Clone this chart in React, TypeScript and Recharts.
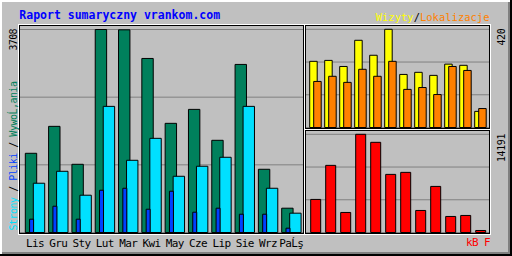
import { BarChart, Bar, XAxis, YAxis, CartesianGrid, Rectangle } from "recharts";

// month order as printed under the main panel (the last label is mojibake in the original)
const months = ["Lis", "Gru", "Sty", "Lut", "Mar", "Kwi", "May", "Cze", "Lip", "Sie", "Wrz", "PaĹş"];

const hits = [1447, 1939, 1246, 3708, 3702, 3179, 1994, 2249, 1684, 3070, 1155, 444];
const files = [900, 1118, 681, 2304, 1319, 1720, 1027, 1210, 1374, 2304, 808, 353];
const pages = [243, 480, 243, 772, 808, 425, 754, 371, 444, 334, 334, 79];
const visits = [283, 287, 261, 373, 309, 420, 227, 236, 223, 271, 266, 69];
const sites = [197, 219, 193, 249, 219, 283, 163, 171, 141, 261, 244, 81];
const kbytes = [4779, 9702, 2896, 14191, 13033, 8399, 8689, 3186, 6661, 2317, 2462, 290];

const hitsMax = 3708;
const visitsMax = 420;
const kbMax = 14191;

const data = months.map((m, i) => ({
  month: m,
  hits: hits[i],
  files: files[i],
  pages: pages[i],
  visits: visits[i],
  sites: sites[i],
  kbytes: kbytes[i],
}));

const mono = "'DejaVu Sans Mono', monospace";
const thirds = (max: number) => [max / 3, (max * 2) / 3];

// pages bar sits inside the hits bar, a bit left of the group centre
const PagesBar = (props: any) => <Rectangle {...props} x={props.x - 3.7} />;

const MonthTick = ({ x, y, payload }: any) => (
  <text x={x} y={y} dy={7.8} textAnchor="middle" fontFamily={mono} fontSize={11} letterSpacing={-0.6} fill="#000">
    {payload.value}
  </text>
);

const Panel = ({ x1, y1, x2, y2 }: any) => (
  <g fill="none">
    <rect x={x1 - 0.5} y={y1 - 0.5} width={x2 - x1 + 2} height={y2 - y1 + 2} stroke="#fff" />
    <rect x={x1 + 0.5} y={y1 + 0.5} width={x2 - x1} height={y2 - y1} stroke="#000" />
  </g>
);

const Frame = () => (
  <svg width={512} height={256} style={{ position: "absolute", left: 0, top: 0 }}>
    <rect width={512} height={256} fill="#c0c0c0" />
    <rect x={0} y={0} width={512} height={2} fill="#fff" />
    <rect x={0} y={0} width={2} height={256} fill="#fff" />
    <rect x={508} y={2} width={2} height={252} fill="#808080" />
    <rect x={2} y={252} width={508} height={2} fill="#808080" />
    <rect x={510} y={0} width={2} height={256} fill="#000" />
    <rect x={0} y={254} width={512} height={2} fill="#000" />

    <Panel x1={19} y1={25} x2={303} y2={233} />
    <Panel x1={305} y1={25} x2={489} y2={128} />
    <Panel x1={305} y1={130} x2={489} y2={233} />

    <text x={19.3} y={19} fontFamily={mono} fontWeight="bold" fontSize={11.5} fill="#0000ff">
      Raport sumaryczny vrankom.com
    </text>
    <text x={489.5} y={20.5} textAnchor="end" fontFamily={mono} fontSize={10.5}>
      <tspan fill="#ffff00">Wizyty</tspan>
      <tspan fill="#000">/</tspan>
      <tspan fill="#ff8000">Lokalizacje</tspan>
    </text>

    <text transform="translate(17.3,50.5) rotate(-90)" fontFamily={mono} fontSize={10} letterSpacing={-0.7} fill="#000">
      {hitsMax}
    </text>
    <text transform="translate(17,230.5) rotate(-90)" fontFamily={mono} fontSize={10} letterSpacing={-0.5}>
      <tspan fill="#00e0ff">Strony</tspan>
      <tspan fill="#000"> / </tspan>
      <tspan fill="#0040ff">Pliki</tspan>
      <tspan fill="#000"> / </tspan>
      <tspan fill="#00805c">WywoĹ‚ania</tspan>
    </text>
    <text transform="translate(505,45.5) rotate(-90)" fontFamily={mono} fontSize={10} letterSpacing={-0.4} fill="#000">
      {visitsMax}
    </text>
    <text transform="translate(504.5,162) rotate(-90)" fontFamily={mono} fontSize={10} letterSpacing={-0.4} fill="#000">
      {kbMax}
    </text>
    <text x={490} y={246.3} textAnchor="end" fontFamily={mono} fontSize={11} letterSpacing={-0.6} fill="#ff0000">
      kB F
    </text>
  </svg>
);

const layer = { position: "absolute" as const, left: 0, top: 0 };

export default function App() {
  return (
    <div style={{ position: "fixed", left: 0, top: 0, width: 512, height: 256, overflow: "hidden" }}>
      <Frame />

      <div style={layer}>
        <BarChart width={512} height={256} data={data} barGap={-3.4}
          margin={{ top: 29.5, right: 209, bottom: 3.5, left: 20 }}>
          <CartesianGrid xAxisId="m" vertical={false} stroke="#808080" />
          <XAxis xAxisId="m" dataKey="month" height={20} padding={{ left: 3.3, right: 0 }}
            axisLine={false} tickLine={false} tickSize={6} tickMargin={0.7} interval={0} tick={<MonthTick />} />
          <XAxis xAxisId="p" dataKey="month" hide padding={{ left: 3.3, right: 0 }} />
          <YAxis domain={[0, hitsMax]} ticks={thirds(hitsMax)} hide />
          <Bar xAxisId="m" dataKey="hits" fill="#00805c" stroke="#000" barSize={11.4} isAnimationActive={false} />
          <Bar xAxisId="m" dataKey="files" fill="#00e0ff" stroke="#000" barSize={11.4} isAnimationActive={false} />
          <Bar xAxisId="p" dataKey="pages" fill="#0040ff" stroke="#000" barSize={4} shape={PagesBar} isAnimationActive={false} />
        </BarChart>
      </div>

      <div style={layer}>
        <BarChart width={512} height={256} data={data} barGap={-3.5}
          margin={{ top: 29.3, right: 23, bottom: 128.5, left: 306 }}>
          <CartesianGrid vertical={false} stroke="#808080" />
          <XAxis dataKey="month" hide padding={{ left: 1.7, right: 1.3 }} />
          <YAxis domain={[0, visitsMax]} ticks={thirds(visitsMax)} hide />
          <Bar dataKey="visits" fill="#ffff00" stroke="#000" barSize={7.5} isAnimationActive={false} />
          <Bar dataKey="sites" fill="#ff8000" stroke="#000" barSize={7.5} isAnimationActive={false} />
        </BarChart>
      </div>

      <div style={layer}>
        <BarChart width={512} height={256} data={data}
          margin={{ top: 134.3, right: 23, bottom: 23.5, left: 306 }}>
          <CartesianGrid vertical={false} stroke="#808080" />
          <XAxis dataKey="month" hide padding={{ left: 1.7, right: 1.3 }} />
          <YAxis domain={[0, kbMax]} ticks={thirds(kbMax)} hide />
          <Bar dataKey="kbytes" fill="#ff0000" stroke="#000" barSize={10} isAnimationActive={false} />
        </BarChart>
      </div>
    </div>
  );
}
